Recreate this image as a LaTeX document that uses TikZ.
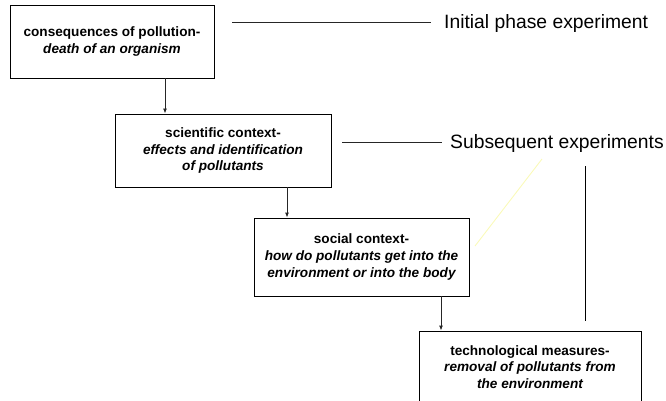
\documentclass[tikz,border=0pt]{standalone}
\usepackage{fontspec}
\setmainfont{Liberation Sans}
\usetikzlibrary{arrows.meta}
\definecolor{paleyellow}{RGB}{250,250,185}
\tikzset{
  box/.style={draw=black, line width=0.9pt, align=center, inner sep=0pt,
    font=\fontsize{13.6}{16.6}\selectfont\bfseries},
  arr/.style={draw=black!85, line width=0.9pt, -{Latex[length=5pt,width=4pt]}},
  lead/.style={draw=black!85, line width=0.9pt},
  lab/.style={anchor=base west, inner sep=0pt, font=\fontsize{19.3}{22}\selectfont}
}
\begin{document}
\begin{tikzpicture}[x=1pt,y=-1pt]
\useasboundingbox (0,0) rectangle (666,401);
\clip (0,0) rectangle (666,401);
\node[box, minimum width=204, minimum height=73] (b1) at (112,41.5)
  {consequences of pollution-\\ \itshape death of an organism};
\node[box, minimum width=216, minimum height=73] (b2) at (223,150.5)
  {scientific context-\\ \itshape effects and identification\\ \itshape of pollutants};
\node[box, minimum width=215, minimum height=78] (b3) at (361.5,257)
  {social context-\\ \itshape how do pollutants get into the\\ \itshape environment or into the body};
\node[box, minimum width=222, minimum height=72] (b4) at (530,367)
  {technological measures-\\ \itshape removal of pollutants from\\ \itshape the environment};

\coordinate (a1) at (165,0);
\coordinate (a2) at (287,0);
\coordinate (a3) at (441,0);
\draw[arr] (a1 |- b1.south) -- (a1 |- b2.north);
\draw[arr] (a2 |- b2.south) -- (a2 |- b3.north);
\draw[arr] (a3 |- b3.south) -- (a3 |- b4.north);

\node[lab] (l1) at (444,28.5) {Initial phase experiment};
\node[lab] (l2) at (450,148.5) {Subsequent experiments};
\coordinate (s1) at (232,22.5);
\coordinate (e1) at (431,22.5);
\coordinate (s2) at (342,142.5);
\coordinate (e2) at (442,142.5);
\draw[lead] (s1) -- (e1);
\draw[lead] (s2) -- (e2);
\coordinate (v1) at (585,166);
\coordinate (v2) at (585,321);
\draw[lead, draw=black] (v1) -- (v2);
\coordinate (y1) at (475,246);
\coordinate (y2) at (542,159);
\draw[paleyellow, line width=0.9pt] (y1) -- (y2);
\end{tikzpicture}
\end{document}
